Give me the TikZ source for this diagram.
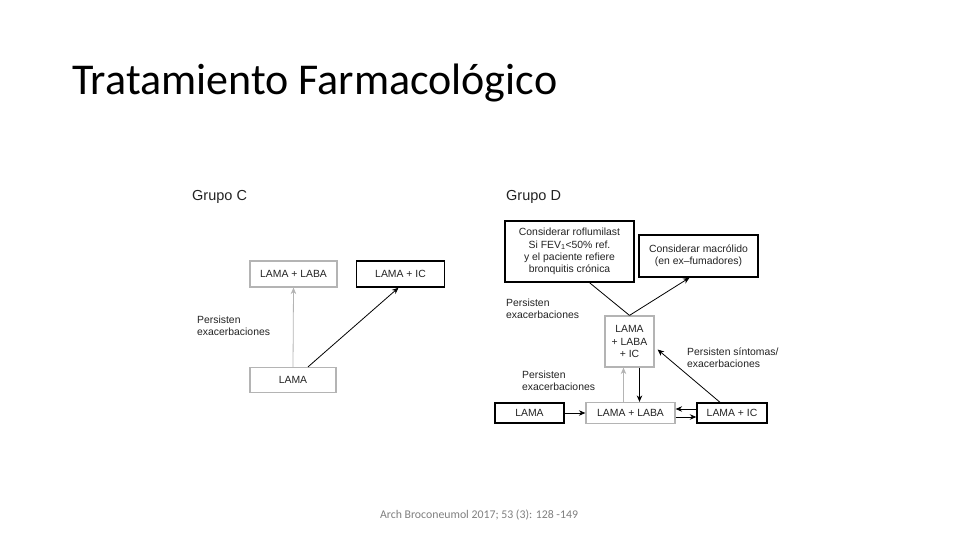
\documentclass[tikz,border=0pt]{standalone}
\usepackage{fontspec}
\setmainfont{Liberation Sans}
\newfontfamily\titlefont{Carlito}
\usetikzlibrary{arrows.meta}
\definecolor{boxgray}{HTML}{B4B4B4}
\definecolor{inkgray}{HTML}{222222}
\definecolor{notegray}{HTML}{7F7F7F}
\begin{document}
\begin{tikzpicture}[x=1pt,y=-1pt,>={Stealth[length=6.5pt,width=5.5pt]},
  font=\fontsize{10.4}{12.3}\selectfont,text=inkgray,
  blackbox/.style={draw=black,line width=1.4pt,inner sep=0pt,align=center},
  graybox/.style={draw=boxgray,line width=1.2pt,inner sep=0pt,align=center},
  note/.style={anchor=west,inner sep=0pt,align=left},
  blackarrow/.style={->,draw=black,line width=0.8pt},
  grayarrow/.style={->,draw=boxgray,line width=0.8pt}]
\useasboundingbox (0,0) rectangle (960,540);
\node[anchor=base west,inner sep=0pt,text=black,font=\titlefont\fontsize{44}{44}\selectfont] (title) at (72,95) {Tratamiento Farmacológico};
% Grupo C
\node[anchor=west,inner sep=0pt,font=\fontsize{14.5}{16}\selectfont] (grupoC) at (192,197) {Grupo C};
\node[graybox,minimum width=87pt,minimum height=26pt] (cLaba) at (293.5,274) {LAMA + LABA};
\node[blackbox,minimum width=88pt,minimum height=26pt] (cIc) at (400.5,274) {LAMA + IC};
\node[graybox,minimum width=86pt,minimum height=25pt] (cLama) at (293,380) {LAMA};
\node[note] (cNote) at (197,326) {Persisten\\exacerbaciones};
\draw[grayarrow] (cLama.north) -- (cLaba.south);
\draw[blackarrow] ([xshift=15pt]cLama.north) -- ([xshift=-2pt]cIc.south);
% Grupo D
\node[anchor=west,inner sep=0pt,font=\fontsize{14.5}{16}\selectfont] (grupoD) at (506,197) {Grupo D};
\node[blackbox,minimum width=129pt,minimum height=61pt] (dRofl) at (569.5,251.5) {Considerar roflumilast\\Si FEV\textsubscript{1}<50\% ref.\\y el paciente refiere\\bronquitis crónica};
\node[blackbox,minimum width=119pt,minimum height=42pt] (dMacro) at (698.5,256) {Considerar macrólido\\(en ex–fumadores)};
\node[graybox,minimum width=49pt,minimum height=51pt] (dTriple) at (629.5,341.5) {LAMA\\+ LABA\\+ IC};
\node[blackbox,minimum width=69pt,minimum height=20pt] (dLama) at (529.5,413) {LAMA};
\node[graybox,minimum width=89pt,minimum height=21pt] (dLaba) at (630.5,413) {LAMA + LABA};
\node[blackbox,minimum width=70pt,minimum height=20pt] (dIc) at (732,413) {LAMA + IC};
\node[note] (dNoteTop) at (506,309) {Persisten\\exacerbaciones};
\node[note] (dNoteLow) at (522,381) {Persisten\\exacerbaciones};
\node[note] (dNoteRight) at (687,358) {Persisten síntomas/\\exacerbaciones};
\draw[line width=0.8pt] ([xshift=20pt]dRofl.south) -- (dTriple.north);
\draw[blackarrow] (dTriple.north) -- ([xshift=-9pt]dMacro.south);
\draw[grayarrow] ([xshift=-7pt]dLaba.north) -- ([xshift=-6pt]dTriple.south);
\draw[blackarrow] ([xshift=10pt]dTriple.south) -- ([xshift=9pt]dLaba.north);
\draw[blackarrow] (dLama.east) -- (dLaba.west);
\draw[blackarrow] ([yshift=4pt]dIc.west) -- ([yshift=4pt]dLaba.east);
\draw[blackarrow] ([yshift=-4pt]dLaba.east) -- ([yshift=-4pt]dIc.west);
\draw[blackarrow] ([xshift=-12pt]dIc.north) -- ([shift={(3pt,-8pt)}]dTriple.east);
% fuente
\node[inner sep=0pt,text=notegray,font=\titlefont\fontsize{11.8}{12}\selectfont] (source) at (479,515) {Arch Broconeumol 2017; 53 (3): 128 -149};
\end{tikzpicture}
\end{document}
